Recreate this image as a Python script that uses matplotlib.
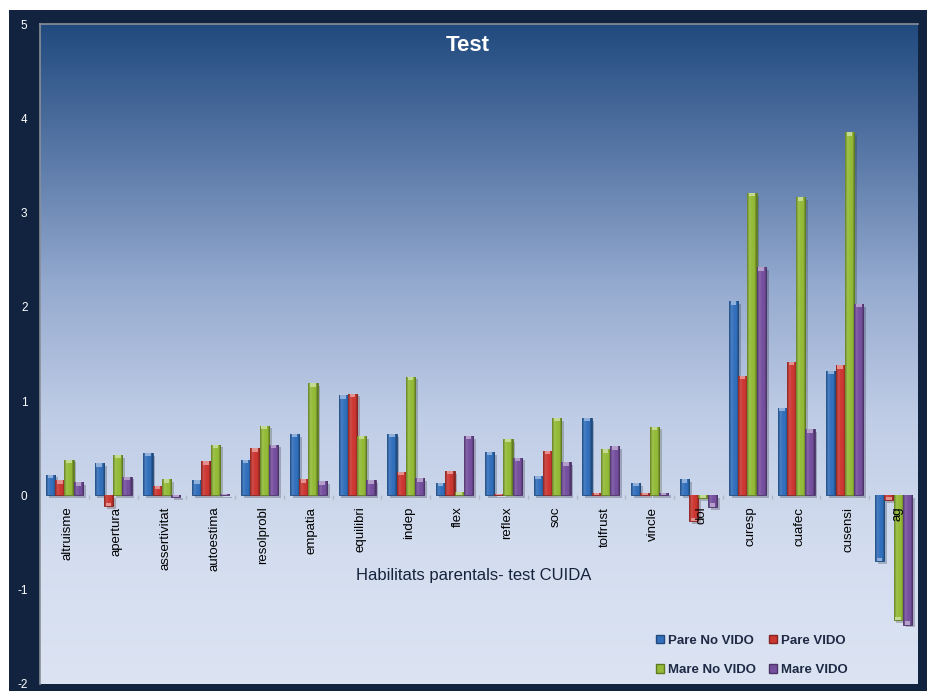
import numpy as np
import matplotlib
matplotlib.use("Agg")
import matplotlib.pyplot as plt
from matplotlib.patches import Rectangle
from matplotlib.colors import LinearSegmentedColormap, to_rgb
import matplotlib.patheffects as pe

plt.rcParams['font.family'] = ['Liberation Sans', 'DejaVu Sans']

categories = ["altruisme", "apertura", "assertivitat", "autoestima", "resolprobl",
              "empatia", "equilibri", "indep", "flex", "reflex", "soc", "tolfrust",
              "vincle", "dol", "curesp", "cuafec", "cusensi", "ag"]
series_names = ["Pare No VIDO", "Pare VIDO", "Mare No VIDO", "Mare VIDO"]
pare_no_vido = [0.22, 0.34, 0.45, 0.16, 0.38, 0.65, 1.06, 0.65, 0.13, 0.46, 0.21, 0.82,
                0.13, 0.17, 2.06, 0.93, 1.32, -0.70]
pare_vido = [0.16, -0.11, 0.10, 0.36, 0.50, 0.17, 1.08, 0.25, 0.26, 0.01, 0.47, 0.03,
             0.03, -0.27, 1.27, 1.42, 1.38, -0.05]
mare_no_vido = [0.38, 0.43, 0.17, 0.54, 0.74, 1.19, 0.63, 1.26, 0.04, 0.60, 0.82, 0.49,
                0.73, -0.03, 3.21, 3.16, 3.85, -1.32]
mare_vido = [0.14, 0.20, -0.02, 0.01, 0.54, 0.15, 0.16, 0.18, 0.63, 0.40, 0.35, 0.52,
             0.03, -0.12, 2.42, 0.70, 2.03, -1.37]
yticks = [-2, -1, 0, 1, 2, 3, 4, 5]

series = [pare_no_vido, pare_vido, mare_no_vido, mare_vido]
colors = ["#3270bd", "#cc3732", "#94bb38", "#76509f"]

W, H = 928, 691
fig = plt.figure(figsize=(W / 100, H / 100), dpi=100)
fig.patch.set_facecolor("white")
# dark frame
fig.patches.append(Rectangle((9 / W, 0), 1 - 9 / W, 1 - 10 / H, transform=fig.transFigure,
                             facecolor="#12233f", edgecolor="none", zorder=0))

ax = fig.add_axes([40 / W, 1 - 684 / H, (918 - 40) / W, (684 - 24) / H])
ax.set_zorder(1)
ax.set_xlim(0, len(categories))
ax.set_ylim(-2, 5)

# background gradient
bg = LinearSegmentedColormap.from_list("bg", [
    (0.0, "#dce4f3"), (0.2, "#d3ddef"), (0.4, "#c0cde6"), (0.6, "#96abd0"),
    (0.8, "#5a79a8"), (1.0, "#214a7e")])
grad = np.linspace(0, 1, 256).reshape(-1, 1)
ax.imshow(grad, cmap=bg, aspect="auto", extent=[0, len(categories), -2, 5],
          origin="lower", zorder=0)

x = np.arange(len(categories)) + 0.5
bw = 0.19
offsets = (np.arange(4) - 1.5) * bw

def shade(c, f):
    r = np.array(to_rgb(c))
    if f >= 0:
        return tuple(r + (1 - r) * f)
    return tuple(r * (1 + f))

for s, (vals, col) in enumerate(zip(series, colors)):
    bars = ax.bar(x + offsets[s], vals, width=bw, color=col, edgecolor=shade(col, -0.35),
                  linewidth=0.6, zorder=3, label=series_names[s])
    cmap = LinearSegmentedColormap.from_list("b%d" % s, [
        shade(col, -0.3), shade(col, 0.12), col, col, shade(col, -0.4)])
    for b, v in zip(bars, vals):
        b.set_path_effects([pe.SimplePatchShadow(offset=(2, -2), alpha=0.25), pe.Normal()])
        x0 = b.get_x()
        y0, y1 = sorted([0, v])
        im = ax.imshow(np.linspace(0, 1, 32).reshape(1, -1), cmap=cmap, aspect="auto",
                       extent=[x0, x0 + bw, y0, y1], zorder=3.5)
        im.set_clip_path(b)
        # light cap at top end of the bar
        cap = min(0.035, abs(v))
        ax.bar(x0 + bw / 2, cap if v >= 0 else -cap, width=bw * 0.6,
               bottom=v - cap if v >= 0 else v + cap,
               color=shade(col, 0.45), edgecolor="none", zorder=4)

# axes styling
for side in ["right", "bottom"]:
    ax.spines[side].set_visible(False)
ax.spines["left"].set_color("#8a8f99")
ax.spines["top"].set_color("#8a8f99")
ax.spines["left"].set_linewidth(1.2)
ax.spines["top"].set_linewidth(1.2)
ax.spines["bottom"].set_position(("data", 0))
ax.set_yticks(yticks)
ax.set_yticklabels([str(t) for t in yticks], color="white", fontsize=8.5)
ax.tick_params(axis="y", length=0, pad=9)
ax.set_xticks(np.arange(1, len(categories)))
ax.set_xticklabels([])
ax.tick_params(axis="x", length=3, width=1, color="#b0b8c6", direction="out")

for xi, name in zip(x, categories):
    ax.text(xi + 0.07, -0.12, name, rotation=90, ha="center", va="top", fontsize=9.5,
            color="black", zorder=5)

ax.text(0.5 * len(categories) - 0.1, -0.85, "Habilitats parentals- test CUIDA",
        ha="center", va="center", fontsize=12, color="#16233d", zorder=5)
ax.set_title("Test", color="white", fontsize=16, fontweight="bold", y=0.955,
             va="center")
ax.title.set_position((0.487, 0.955))

handles = [Rectangle((0, 0), 1, 1, facecolor=c, edgecolor=shade(c, -0.35)) for c in colors]
order = [0, 2, 1, 3]  # legend fills row-wise: Pare No VIDO, Pare VIDO / Mare No VIDO, Mare VIDO
leg = fig.legend([handles[i] for i in order], [series_names[i] for i in order], ncol=2,
                 loc="upper left", bbox_to_anchor=(644 / W, 1 - 623 / H), frameon=False,
                 handlelength=0.6, handleheight=0.6, handletextpad=0.3,
                 columnspacing=1.0, labelspacing=1.3,
                 prop={"weight": "bold", "size": 9.5})
for t in leg.get_texts():
    t.set_color("#1e2a45")

fig.savefig("out.png", dpi=100, facecolor=fig.get_facecolor())
